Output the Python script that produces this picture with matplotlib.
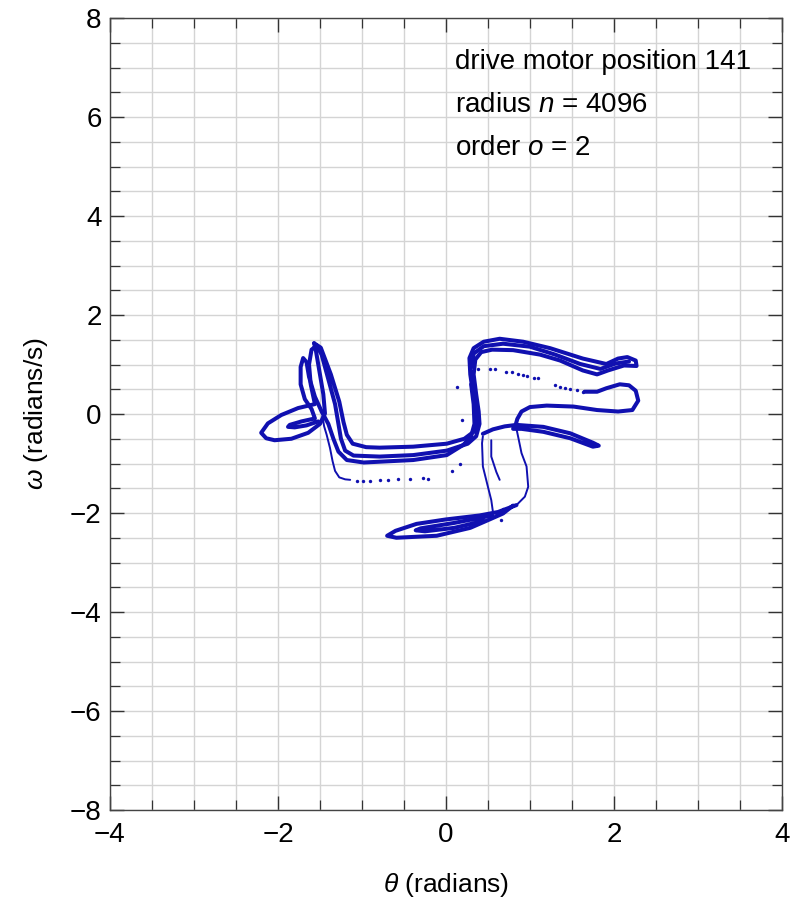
import numpy as np
import matplotlib
matplotlib.use("Agg")
import matplotlib.pyplot as plt
from matplotlib.ticker import MultipleLocator

plt.rcParams['font.family'] = ['Liberation Sans', 'DejaVu Sans']
plt.rcParams['mathtext.fontset'] = 'custom'
plt.rcParams['mathtext.rm'] = 'Liberation Sans'
plt.rcParams['mathtext.it'] = 'Liberation Sans:italic'

BLUE = '#1010b0'

# traced strands of the section (theta, omega)
strand_outer = [(-1.57, 1.43), (-1.49, 1.34), (-1.37, 0.80), (-1.27, 0.25), (-1.22, -0.16),
                (-1.18, -0.42), (-1.11, -0.60), (-0.95, -0.67), (-0.79, -0.68), (-0.39, -0.66),
                (0.01, -0.60), (0.22, -0.50), (0.33, -0.36), (0.37, -0.15), (0.36, 0.10),
                (0.32, 0.45), (0.29, 0.80), (0.28, 1.13), (0.33, 1.33), (0.45, 1.46),
                (0.64, 1.52), (0.92, 1.46), (1.24, 1.33), (1.63, 1.12), (1.91, 1.01),
                (2.05, 1.12), (2.16, 1.15), (2.26, 1.08), (2.27, 0.97), (2.12, 0.98),
                (1.93, 0.88), (1.80, 0.80), (1.63, 0.88), (1.36, 1.08), (1.12, 1.20),
                (0.80, 1.29), (0.55, 1.30), (0.42, 1.25), (0.35, 1.10), (0.33, 0.80),
                (0.36, 0.40), (0.39, 0.05), (0.40, -0.20), (0.36, -0.45), (0.26, -0.60),
                (0.01, -0.74), (-0.39, -0.83), (-0.79, -0.86), (-1.10, -0.84), (-1.20, -0.74),
                (-1.25, -0.50), (-1.28, -0.20), (-1.32, 0.20), (-1.40, 0.70), (-1.48, 1.20),
                (-1.54, 1.38)]

strand_band_mid = [(0.31, 0.95), (0.33, 1.22), (0.45, 1.37), (0.68, 1.42), (1.00, 1.36),
                   (1.30, 1.20), (1.60, 1.01), (1.84, 0.91), (2.02, 1.02), (2.18, 1.06)]

strand_lobe = [(-1.54, 1.38), (-1.60, 1.30), (-1.63, 1.00), (-1.61, 0.60), (-1.56, 0.20),
               (-1.76, 0.12), (-1.96, -0.02), (-2.12, -0.19), (-2.20, -0.38), (-2.14, -0.49),
               (-2.04, -0.53), (-1.84, -0.50), (-1.64, -0.38), (-1.50, -0.20), (-1.44, 0.01),
               (-1.46, 0.40), (-1.51, 0.90), (-1.55, 1.30), (-1.57, 1.43)]

strand_inner = [(0.30, 0.60), (0.33, 0.20), (0.34, -0.20), (0.30, -0.45), (0.21, -0.62),
                (0.01, -0.83), (-0.39, -0.93), (-0.98, -0.98), (-1.18, -0.93), (-1.28, -0.76),
                (-1.34, -0.50), (-1.40, -0.20), (-1.48, 0.05), (-1.56, 0.35), (-1.63, 0.75),
                (-1.66, 1.05), (-1.70, 1.13), (-1.73, 0.95), (-1.73, 0.60), (-1.68, 0.30),
                (-1.60, 0.10), (-1.56, -0.09), (-1.72, -0.15), (-1.86, -0.22), (-1.88, -0.26),
                (-1.80, -0.27), (-1.66, -0.23), (-1.52, -0.15)]

strand_drop = [(-1.47, -0.05), (-1.45, -0.25), (-1.42, -0.42), (-1.38, -0.69), (-1.35, -0.95),
               (-1.32, -1.15), (-1.27, -1.28), (-1.20, -1.32), (-1.14, -1.33)]

strand_loop_right = [(1.65, 0.45), (1.80, 0.45), (1.91, 0.52), (2.07, 0.60), (2.18, 0.58),
                     (2.26, 0.47), (2.29, 0.27), (2.22, 0.08), (2.05, 0.05), (1.80, 0.08),
                     (1.52, 0.15), (1.20, 0.17), (1.00, 0.14), (0.90, 0.05), (0.85, -0.10),
                     (0.83, -0.22)]

strand_tail = [(0.44, -0.40), (0.56, -0.31), (0.70, -0.25), (0.84, -0.22), (1.16, -0.26),
               (1.48, -0.39), (1.75, -0.58), (1.82, -0.64), (1.75, -0.66), (1.48, -0.49),
               (1.16, -0.36), (0.90, -0.30), (0.80, -0.30)]

strand_right_drop = [(0.83, -0.22), (0.86, -0.46), (0.90, -0.79), (0.96, -1.06), (0.98, -1.47),
                     (0.94, -1.67), (0.84, -1.84)]

strand_bottom = [(0.84, -1.84), (0.62, -1.98), (0.40, -2.05), (0.00, -2.13), (-0.35, -2.22),
                 (-0.60, -2.36), (-0.70, -2.46), (-0.59, -2.50), (-0.11, -2.46), (0.29, -2.30),
                 (0.52, -2.13), (0.68, -2.01), (0.80, -1.85)]

strand_bottom_inner = [(0.55, -2.05), (0.10, -2.20), (-0.30, -2.31), (-0.36, -2.35), (-0.25, -2.37),
                       (0.10, -2.30), (0.45, -2.16)]

strand_left_drop = [(0.56, -1.98), (0.54, -1.74), (0.50, -1.47), (0.44, -1.06), (0.43, -0.59),
                    (0.44, -0.45)]

strand_short = [(0.54, -0.53), (0.54, -0.86), (0.60, -1.17), (0.64, -1.33)]

# isolated points
dots_theta = [-1.063, -0.985, -0.905, -0.786, -0.687, -0.568, -0.429, -0.270, -0.211,
              0.068, 0.167, 0.187, 0.127, 0.377, 0.524, 0.583, 0.714, 0.782, 0.861,
              0.920, 0.968, 1.051, 1.099, 1.298, 1.357, 1.417, 1.476, 1.556, 1.635,
              0.68, 0.66]
dots_omega = [-1.347, -1.347, -1.347, -1.333, -1.333, -1.319, -1.313, -1.293, -1.307,
              -1.152, -1.016, -0.121, 0.539, 0.903, 0.909, 0.909, 0.855, 0.842, 0.802,
              0.788, 0.774, 0.733, 0.733, 0.586, 0.552, 0.519, 0.505, 0.485, 0.451,
              -1.91, -2.14]

fig = plt.figure(figsize=(7.97, 9.0), dpi=100)
ax = fig.add_axes([0.138, 0.10, 0.843, 0.88])

thick = [strand_outer, strand_band_mid, strand_lobe, strand_inner, strand_loop_right,
         strand_tail, strand_bottom, strand_bottom_inner]
thin = [strand_drop, strand_right_drop, strand_left_drop, strand_short]
for s in thick:
    a = np.array(s)
    ax.plot(a[:, 0], a[:, 1], color=BLUE, lw=2.9, solid_capstyle='round',
            solid_joinstyle='round', zorder=3)
for s in thin:
    a = np.array(s)
    ax.plot(a[:, 0], a[:, 1], color=BLUE, lw=1.4, solid_capstyle='round', zorder=3)
ax.scatter(dots_theta, dots_omega, s=6, color=BLUE, lw=0, zorder=3)

ax.set_xlim(-4, 4)
ax.set_ylim(-8, 8)
ax.xaxis.set_major_locator(MultipleLocator(2))
ax.xaxis.set_minor_locator(MultipleLocator(0.5))
ax.yaxis.set_major_locator(MultipleLocator(2))
ax.yaxis.set_minor_locator(MultipleLocator(0.5))
ax.grid(which='both', color='#d4d4d4', lw=1.0, zorder=0)
ax.set_axisbelow(True)
ax.tick_params(which='both', direction='in', top=True, right=True, colors='#333333',
               labelcolor='black', labelsize=20)
ax.tick_params(which='major', length=10, width=1.0)
ax.tick_params(which='minor', length=7, width=0.9)
ax.tick_params(axis='x', which='both', pad=9)
ax.tick_params(axis='y', which='both', pad=6)
for lab in ax.get_xticklabels() + ax.get_yticklabels():
    lab.set_family(['Liberation Sans Narrow', 'Liberation Sans'])
for sp in ax.spines.values():
    sp.set_color('#444444')
    sp.set_linewidth(1.0)

ax.set_xlabel(r'$\theta$ (radians)', fontsize=19, labelpad=16)
ax.set_ylabel(r'$\omega$ (radians/s)', fontsize=19, labelpad=14)

ax.text(0.107, 7.11, 'drive motor position 141', fontsize=20, va='center')
ax.text(0.107, 6.24, 'radius $n$ = 4096', fontsize=20, va='center')
ax.text(0.107, 5.37, 'order $o$ = 2', fontsize=20, va='center')

fig.savefig('out.png', dpi=100)
